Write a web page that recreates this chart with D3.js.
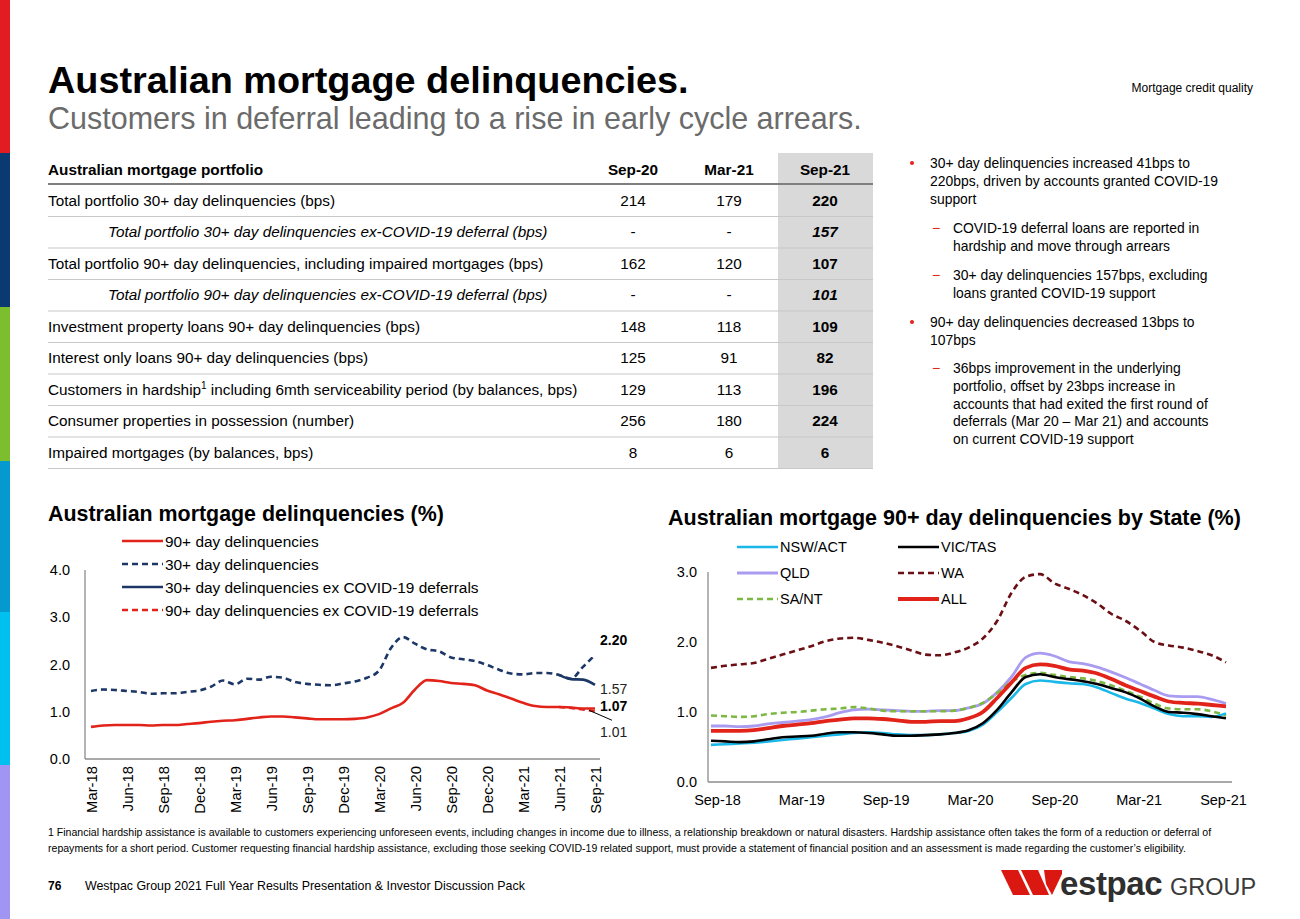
<!DOCTYPE html>
<html><head><meta charset="utf-8">
<script src="https://cdn.jsdelivr.net/npm/d3@7"></script>
<style>
html,body{margin:0;padding:0;background:#fff;}
svg{display:block;font-family:"Liberation Sans",Arial,sans-serif;}
</style></head>
<body>
<svg id="slide" width="1300" height="919"></svg>
<script>
// ---------- DATA ----------
const tableCols = ["Sep-20", "Mar-21", "Sep-21"];
const tableRows = [
  "Total portfolio 30+ day delinquencies (bps)",
  "Total portfolio 30+ day delinquencies ex-COVID-19 deferral (bps)",
  "Total portfolio 90+ day delinquencies, including impaired mortgages (bps)",
  "Total portfolio 90+ day delinquencies ex-COVID-19 deferral (bps)",
  "Investment property loans 90+ day delinquencies (bps)",
  "Interest only loans 90+ day delinquencies (bps)",
  "Customers in hardship|1| including 6mth serviceability period (by balances, bps)",
  "Consumer properties in possession (number)",
  "Impaired mortgages (by balances, bps)"
];
const rowItalic = [false, true, false, true, false, false, false, false, false];
const valSep20 = ["214", "-", "162", "-", "148", "125", "129", "256", "8"];
const valMar21 = ["179", "-", "120", "-", "118", "91", "113", "180", "6"];
const valSep21 = ["220", "157", "107", "101", "109", "82", "196", "224", "6"];

// Left chart: monthly Mar-18 .. Sep-21 (43 points)
const leftTickLabels = ["Mar-18","Jun-18","Sep-18","Dec-18","Mar-19","Jun-19","Sep-19","Dec-19","Mar-20","Jun-20","Sep-20","Dec-20","Mar-21","Jun-21","Sep-21"];
const leftYTicks = [0, 1, 2, 3, 4];
const del90 = [0.68,0.71,0.72,0.72,0.72,0.71,0.72,0.72,0.74,0.76,0.79,0.81,0.82,0.85,0.88,0.90,0.90,0.88,0.86,0.84,0.84,0.84,0.85,0.88,0.95,1.07,1.19,1.47,1.67,1.65,1.61,1.59,1.56,1.45,1.37,1.28,1.19,1.12,1.10,1.10,1.09,1.07,1.07];
const del30 = [1.44,1.47,1.46,1.44,1.42,1.38,1.39,1.39,1.42,1.45,1.53,1.66,1.58,1.70,1.68,1.74,1.72,1.63,1.59,1.57,1.56,1.60,1.64,1.72,1.87,2.35,2.58,2.44,2.32,2.28,2.15,2.11,2.07,1.99,1.89,1.81,1.79,1.82,1.82,1.78,1.70,1.95,2.20];
const del30ex = [null,null,null,null,null,null,null,null,null,null,null,null,null,null,null,null,null,null,null,null,null,null,null,null,null,null,null,null,null,null,null,null,null,null,null,null,null,null,null,1.78,1.69,1.68,1.57];
const del90ex = [null,null,null,null,null,null,null,null,null,null,null,null,null,null,null,null,null,null,null,null,null,null,null,null,null,null,null,null,null,null,null,null,null,null,null,null,null,null,null,1.10,1.08,1.05,1.01];

// Right chart: monthly Sep-18 .. Sep-21 (37 points)
const rightTickLabels = ["Sep-18","Mar-19","Sep-19","Mar-20","Sep-20","Mar-21","Sep-21"];
const rightYTicks = [0, 1, 2, 3];
const nswAct = [0.53,0.54,0.55,0.56,0.58,0.60,0.62,0.64,0.66,0.68,0.70,0.71,0.70,0.68,0.67,0.67,0.68,0.70,0.73,0.82,1.00,1.20,1.40,1.45,1.43,1.41,1.40,1.35,1.27,1.19,1.13,1.05,0.97,0.94,0.94,0.93,0.98];
const vicTas = [0.59,0.58,0.57,0.58,0.61,0.64,0.65,0.66,0.69,0.71,0.71,0.70,0.68,0.66,0.66,0.67,0.68,0.70,0.74,0.84,1.03,1.28,1.50,1.54,1.50,1.47,1.44,1.40,1.34,1.28,1.19,1.08,1.00,0.99,0.97,0.94,0.91];
const qld = [0.80,0.80,0.79,0.80,0.83,0.85,0.87,0.89,0.93,0.99,1.03,1.04,1.03,1.02,1.01,1.01,1.02,1.02,1.06,1.12,1.28,1.50,1.78,1.84,1.80,1.72,1.69,1.64,1.57,1.49,1.40,1.31,1.23,1.22,1.22,1.18,1.12];
const wa = [1.63,1.66,1.68,1.70,1.76,1.82,1.88,1.94,2.01,2.05,2.06,2.03,1.99,1.94,1.88,1.82,1.81,1.85,1.92,2.05,2.30,2.70,2.93,2.97,2.84,2.76,2.67,2.55,2.40,2.30,2.16,2.00,1.95,1.92,1.87,1.81,1.71];
const saNt = [0.95,0.94,0.93,0.94,0.97,0.99,1.00,1.02,1.04,1.05,1.07,1.05,1.02,1.01,1.01,1.01,1.01,1.02,1.06,1.13,1.27,1.43,1.53,1.56,1.53,1.50,1.48,1.44,1.38,1.30,1.22,1.12,1.05,1.04,1.04,1.01,0.95];
const allStates = [0.73,0.73,0.73,0.74,0.77,0.80,0.82,0.84,0.87,0.89,0.91,0.91,0.90,0.88,0.86,0.86,0.87,0.87,0.91,1.00,1.20,1.42,1.63,1.68,1.66,1.61,1.59,1.55,1.47,1.38,1.30,1.22,1.15,1.13,1.12,1.10,1.08];

// ---------- DRAW ----------
const svg = d3.select("#slide");
const RED = "#E2231A", NAVY = "#1C3766";
const FF = "Liberation Sans, Arial, sans-serif";

// side stripe
const stripe = [["#E31B23",0,153],["#0B3A73",153,307],["#7DBE2E",307,461],["#0499CF",461,612],["#00C0F0",612,765],["#A095F2",765,919]];
svg.selectAll("rect.stripe").data(stripe).enter().append("rect")
  .attr("x",0).attr("width",10).attr("y",d=>d[1]).attr("height",d=>d[2]-d[1]).attr("fill",d=>d[0]);

// titles
svg.append("text").attr("x",48).attr("y",93).attr("font-size",37.8).attr("font-weight","bold").attr("fill","#000")
  .text("Australian mortgage delinquencies.");
svg.append("text").attr("x",48).attr("y",129).attr("font-size",30.5).attr("fill","#6b6b6b")
  .text("Customers in deferral leading to a rise in early cycle arrears.");
svg.append("text").attr("x",1253).attr("y",92).attr("font-size",12).attr("text-anchor","end").attr("fill","#000")
  .text("Mortgage credit quality");

// ---------- TABLE ----------
const tbl = svg.append("g");
const colX = [633, 729, 825];
const TF = 15.3;
const rowH = 31.5, firstRowTop = 185;
tbl.append("rect").attr("x",778).attr("y",153).attr("width",95).attr("height",468-153).attr("fill","#D9D9D9");
tbl.append("text").attr("x",48).attr("y",175).attr("font-size",TF).attr("font-weight","bold").text("Australian mortgage portfolio");
tableCols.forEach((c,i)=>{
  tbl.append("text").attr("x",colX[i]).attr("y",175).attr("font-size",TF).attr("font-weight","bold")
    .attr("text-anchor","middle").text(c);
});
tbl.append("line").attr("x1",48).attr("x2",873).attr("y1",184).attr("y2",184).attr("stroke","#7f7f7f").attr("stroke-width",2);
tableRows.forEach((r,i)=>{
  const yc = firstRowTop + rowH*i + rowH/2;
  const t = tbl.append("text").attr("x", rowItalic[i]?108:48).attr("y",yc+5).attr("font-size",TF)
    .attr("font-style", rowItalic[i]?"italic":"normal");
  const parts = r.split("|");
  if (parts.length===3){
    t.append("tspan").text(parts[0]);
    t.append("tspan").attr("font-size",10).attr("dy",-6).text(parts[1]);
    t.append("tspan").attr("dy",6).text(parts[2]);
  } else t.text(r);
  [valSep20[i], valMar21[i], valSep21[i]].forEach((v,j)=>{
    tbl.append("text").attr("x",colX[j]).attr("y",yc+5).attr("font-size",TF).attr("text-anchor","middle")
      .attr("font-weight", j===2?"bold":"normal").attr("font-style", (j===2&&rowItalic[i])?"italic":"normal").text(v);
  });
  tbl.append("line").attr("x1",48).attr("x2",873).attr("y1",firstRowTop+rowH*(i+1)).attr("y2",firstRowTop+rowH*(i+1))
    .attr("stroke","#c8c8c8").attr("stroke-width",1.2);
});

// ---------- BULLETS ----------
const bullets = [
  {lvl:0, lines:["30+ day delinquencies increased 41bps to","220bps, driven by accounts granted COVID-19","support"], y:168},
  {lvl:1, lines:["COVID-19 deferral loans are reported in","hardship and move through arrears"], y:233},
  {lvl:1, lines:["30+ day delinquencies 157bps, excluding","loans granted COVID-19 support"], y:280},
  {lvl:0, lines:["90+ day delinquencies decreased 13bps to","107bps"], y:327},
  {lvl:1, lines:["36bps improvement in the underlying","portfolio, offset by 23bps increase in","accounts that had exited the first round of","deferrals (Mar 20 \u2013 Mar 21) and accounts","on current COVID-19 support"], y:373}
];
bullets.forEach(b=>{
  const tx = b.lvl===0 ? 930 : 953;
  if (b.lvl===0) svg.append("circle").attr("cx",912).attr("cy",b.y-5).attr("r",2).attr("fill",RED);
  else svg.append("text").attr("x",932).attr("y",b.y).attr("font-size",14).attr("fill",RED).text("\u2212");
  b.lines.forEach((l,k)=>{
    svg.append("text").attr("x",tx).attr("y",b.y+k*17.8).attr("font-size",13.9).attr("fill","#000").text(l);
  });
});

// ---------- LEFT CHART ----------
svg.append("text").attr("x",48).attr("y",521).attr("font-size",21.4).attr("font-weight","bold").text("Australian mortgage delinquencies (%)");
const xL = d3.scaleLinear().domain([0, del90.length-1]).range([91, 595]);
const yL = d3.scaleLinear().domain([0, 4]).range([759, 570]);
const gL = svg.append("g");
gL.append("g").attr("transform","translate(85,0)")
  .call(d3.axisLeft(yL).tickValues(leftYTicks).tickFormat(d3.format(".1f")).tickSize(0).tickPadding(15))
  .call(g=>{g.select(".domain").attr("stroke","#8c8c8c").attr("stroke-width",1.3).attr("d","M0,"+yL(4)+"V"+yL(0));
    g.selectAll("text").attr("font-size",14.5).attr("fill","#000").attr("font-family",FF);});
const xTickIdx = leftTickLabels.map((d,i)=>i*3);
gL.append("g").attr("transform","translate(0,"+yL(0)+")")
  .call(d3.axisBottom(xL).tickValues(xTickIdx).tickFormat((d,i)=>leftTickLabels[i]).tickSize(0))
  .call(g=>{g.select(".domain").attr("stroke","#8c8c8c").attr("stroke-width",1.3).attr("d","M85,0H600");
    g.selectAll("text").attr("font-size",14.8).attr("fill","#000").attr("font-family",FF)
      .attr("text-anchor","end").attr("transform","rotate(-90)").attr("x",-7).attr("y",0).attr("dy","0.35em");});
const lineL = d3.line().defined(d=>d!=null).x((d,i)=>xL(i)).y(d=>yL(d)).curve(d3.curveMonotoneX);
const leftSeries = [
  {name:"90+ day delinquencies", data:del90, color:RED, dash:null},
  {name:"30+ day delinquencies", data:del30, color:NAVY, dash:"6,4"},
  {name:"30+ day delinquencies ex COVID-19 deferrals", data:del30ex, color:NAVY, dash:null},
  {name:"90+ day delinquencies ex COVID-19 deferrals", data:del90ex, color:RED, dash:"6,4"}
];
leftSeries.forEach(s=>{
  gL.append("path").datum(s.data).attr("d",lineL).attr("fill","none").attr("stroke",s.color)
    .attr("stroke-width",2.6).attr("stroke-dasharray",s.dash);
});
leftSeries.forEach((s,i)=>{
  const y = 541 + i*23;
  gL.append("line").attr("x1",122).attr("x2",163).attr("y1",y).attr("y2",y).attr("stroke",s.color)
    .attr("stroke-width",2.6).attr("stroke-dasharray",s.dash);
  gL.append("text").attr("x",165).attr("y",y+5.5).attr("font-size",15.4).text(s.name);
});
const lastI = del90.length-1;
const annL = [
  {v:del30[lastI], dy:-10, bold:true},
  {v:del30ex[lastI], dy:9, bold:false},
  {v:del90[lastI], dy:3, bold:true},
  {v:del90ex[lastI], dy:26, bold:false}
];
annL.forEach(a=>{
  gL.append("text").attr("x",xL(lastI)+5).attr("y",yL(a.v)+a.dy).attr("font-size",14)
    .attr("font-weight",a.bold?"bold":"normal").attr("fill",a.bold?"#000":"#222").text(a.v.toFixed(2));
});
gL.append("line").attr("x1",xL(lastI)-6).attr("y1",yL(del90ex[lastI])-1).attr("x2",xL(lastI)+17).attr("y2",yL(del90ex[lastI])+9)
  .attr("stroke","#000").attr("stroke-width",1);

// ---------- RIGHT CHART ----------
svg.append("text").attr("x",668).attr("y",525).attr("font-size",21.5).attr("font-weight","bold")
  .text("Australian mortgage 90+ day delinquencies by State (%)");
const xR = d3.scaleLinear().domain([0, allStates.length-1]).range([711, 1226]);
const xRLab = d3.scalePoint().domain(rightTickLabels).range([717, 1223]);
const yR = d3.scaleLinear().domain([0, 3]).range([782, 572]);
const gR = svg.append("g");
gR.append("g").attr("transform","translate(708,0)")
  .call(d3.axisLeft(yR).tickValues(rightYTicks).tickFormat(d3.format(".1f")).tickSize(0).tickPadding(11))
  .call(g=>{g.select(".domain").attr("stroke","#8c8c8c").attr("stroke-width",1.3).attr("d","M0,"+yR(3)+"V"+yR(0));
    g.selectAll("text").attr("font-size",14.5).attr("fill","#000").attr("font-family",FF);});
gR.append("g").attr("transform","translate(0,"+yR(0)+")")
  .call(d3.axisBottom(xRLab).tickSize(0).tickPadding(13))
  .call(g=>{g.select(".domain").attr("stroke","#8c8c8c").attr("stroke-width",1.3).attr("d","M708,0H1232");
    g.selectAll("text").attr("font-size",14.5).attr("fill","#000").attr("font-family",FF);});
const lineR = d3.line().x((d,i)=>xR(i)).y(d=>yR(d)).curve(d3.curveMonotoneX);
const rightSeries = [
  {name:"NSW/ACT", data:nswAct, color:"#1AB8E8", dash:null, w:2.6, lx:737, ly:547},
  {name:"VIC/TAS", data:vicTas, color:"#000000", dash:null, w:2.6, lx:898, ly:547},
  {name:"QLD", data:qld, color:"#A99CF0", dash:null, w:2.8, lx:737, ly:573},
  {name:"WA", data:wa, color:"#6B0F14", dash:"6,4", w:2.6, lx:898, ly:573},
  {name:"SA/NT", data:saNt, color:"#7CB842", dash:"6,4", w:2.6, lx:737, ly:599},
  {name:"ALL", data:allStates, color:RED, dash:null, w:3.8, lx:898, ly:599}
];
const drawOrder = [3,2,4,0,1,5];
drawOrder.forEach(k=>{
  const s = rightSeries[k];
  gR.append("path").datum(s.data).attr("d",lineR).attr("fill","none").attr("stroke",s.color)
    .attr("stroke-width",s.w).attr("stroke-dasharray",s.dash);
});
rightSeries.forEach(s=>{
  gR.append("line").attr("x1",s.lx).attr("x2",s.lx+41).attr("y1",s.ly).attr("y2",s.ly).attr("stroke",s.color)
    .attr("stroke-width",s.w).attr("stroke-dasharray",s.dash);
  gR.append("text").attr("x",s.lx+43).attr("y",s.ly+5).attr("font-size",14.5).text(s.name);
});

// ---------- FOOTNOTE / FOOTER ----------
svg.append("text").attr("x",48).attr("y",836).attr("font-size",10.55).attr("fill","#000")
  .text("1 Financial hardship assistance is available to customers experiencing unforeseen events, including changes in income due to illness, a relationship breakdown or natural disasters. Hardship assistance often takes the form of a reduction or deferral of");
svg.append("text").attr("x",48).attr("y",852).attr("font-size",10.55).attr("fill","#000")
  .text("repayments for a short period. Customer requesting financial hardship assistance, excluding those seeking COVID-19 related support, must provide a statement of financial position and an assessment is made regarding the customer\u2019s eligibility.");
svg.append("text").attr("x",48).attr("y",890).attr("font-size",12).attr("font-weight","bold").text("76");
svg.append("text").attr("x",85).attr("y",890).attr("font-size",12.4).text("Westpac Group 2021 Full Year Results Presentation & Investor Discussion Pack");

// logo
const logo = svg.append("g");
logo.append("path").attr("fill","#DA1710").attr("d","M1001,870 L1018,870 L1030,895 L1013,895 Z");
logo.append("path").attr("fill","#DA1710").attr("d","M1021,870 L1038,870 L1049,895 L1033,895 Z");
logo.append("path").attr("fill","#DA1710").attr("d","M1044,870 L1062,870 L1062,874 L1052,895 L1046,884 Z");
logo.append("text").attr("x",1060).attr("y",895).attr("font-size",33).attr("font-weight","bold").attr("fill","#2f2f2f")
  .attr("letter-spacing",-0.4).text("estpac");
logo.append("text").attr("x",1170).attr("y",895).attr("font-size",23.5).attr("fill","#3a3a3a").text("GROUP");
</script>
</body></html>
